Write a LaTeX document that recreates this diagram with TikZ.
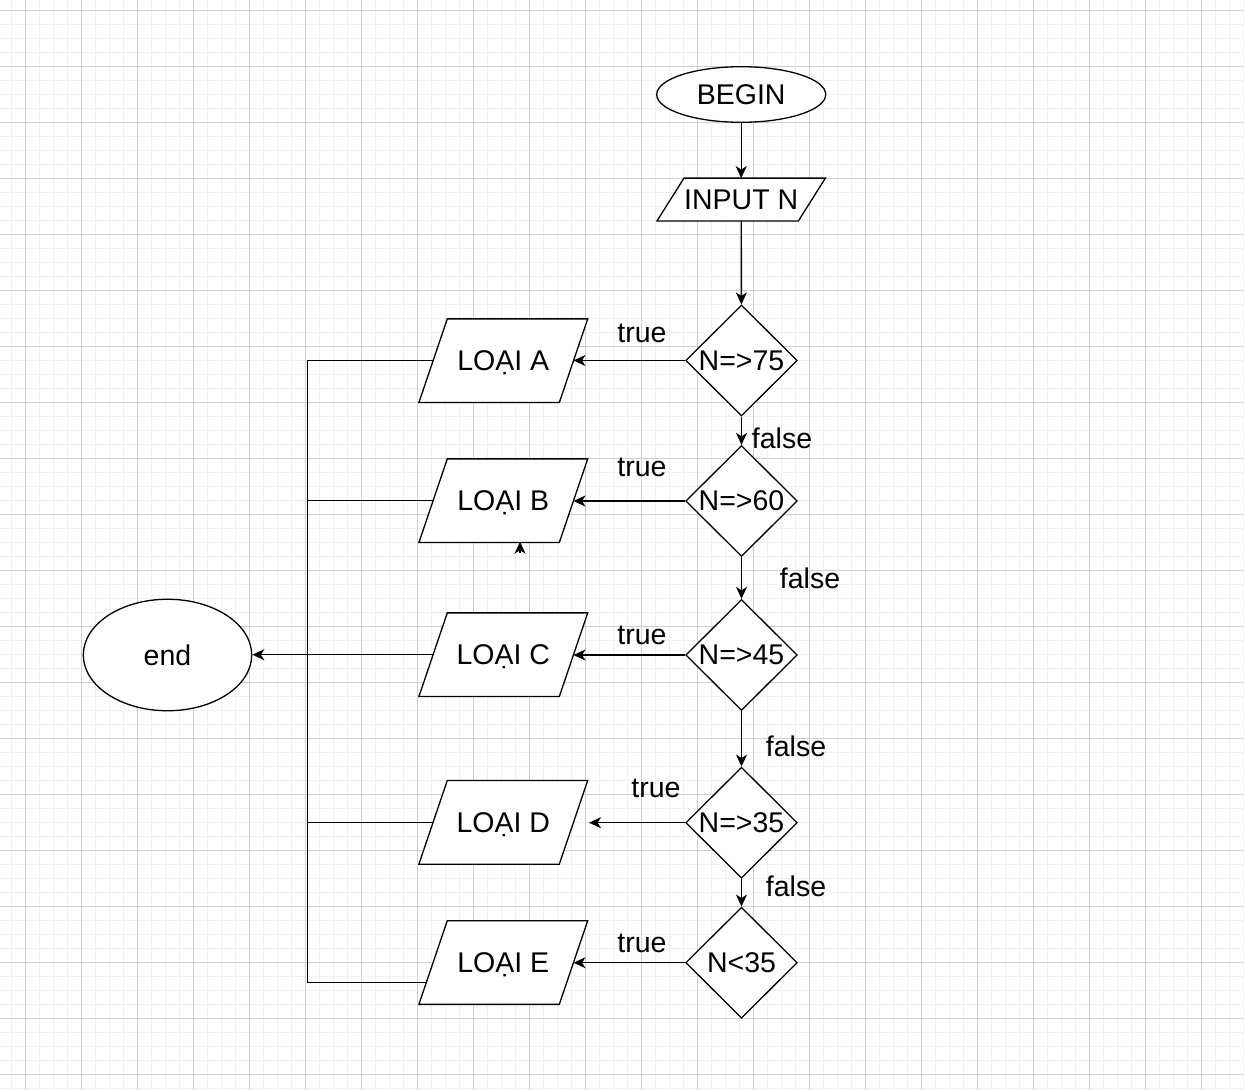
\documentclass[tikz,border=0pt]{standalone}
\usepackage{fontspec}
\setmainfont{Liberation Sans}
\usetikzlibrary{shapes.geometric,arrows.meta,calc}
\definecolor{gmaj}{RGB}{208,208,208}
\definecolor{gmin}{RGB}{241,241,241}
\pgfdeclarelayer{back}
\pgfsetlayers{back,main}
\begin{document}
\begin{tikzpicture}[x=1pt,y=-1pt,
  every node/.style={font=\fontsize{28.5}{34}\selectfont},
  conn/.style={line width=1.4pt, draw=black},
  arr/.style={conn, -{Stealth[length=12pt,width=11pt,inset=3.5pt]}},
  term/.style={ellipse, draw, line width=1.3pt, inner sep=0pt, fill=white},
  dec/.style={diamond, draw, line width=1.3pt, inner sep=0pt, minimum width=111.6pt, minimum height=111pt, fill=white},
  iobox/.style={rectangle, draw=none, inner sep=0pt, minimum width=140pt, minimum height=83.3pt, text depth=0pt},
  shp/.style={draw, line width=1.3pt, fill=white, line join=miter},
  lbl/.style={inner sep=0pt},
  minorline/.style={gmin, line width=1.6pt},
  majorline/.style={gmaj, line width=1pt}
]
\useasboundingbox (0,0) rectangle (1244,1090);
\begin{pgfonlayer}{back}
\fill[white] (0,0) rectangle (1244,1090);
\foreach \i in {0,...,88} \draw[minorline] ({11.3+14*\i},0) -- ({11.3+14*\i},1090);
\foreach \i in {0,...,77} \draw[minorline] (0,{10.3+14*\i}) -- (1244,{10.3+14*\i});
\foreach \i in {0,...,21} \draw[majorline] ({25.3+56*\i},0) -- ({25.3+56*\i},1090);
\foreach \i in {0,...,19} \draw[majorline] (0,{10.3+56*\i}) -- (1244,{10.3+56*\i});
\end{pgfonlayer}

% terminals
\node[term, minimum width=169pt, minimum height=55.6pt] (begin) at (741.2,94.5) {BEGIN};
\node[term, minimum width=168.4pt, minimum height=111.5pt] (endn) at (167.5,655) {end};

% input
\node[iobox, minimum width=141pt, minimum height=42.4pt] (inp) at (741.2,199.5) {INPUT N};

% decisions
\node[dec] (d1) at (741.5,360.5) {N=>75};
\node[dec] (d2) at (741.5,501) {N=>60};
\node[dec] (d3) at (741.5,655) {N=>45};
\node[dec] (d4) at (741.5,822.7) {N=>35};
\node[dec] (d5) at (741.5,962.7) {N<35};

% outputs
\node[iobox] (A) at (503.3,360.7) {LOẠI A};
\node[iobox] (B) at (503.3,500.7) {LOẠI B};
\node[iobox] (C) at (503.3,654.7) {LOẠI C};
\node[iobox] (D) at (503.3,822.3) {LOẠI D};
\node[iobox] (E) at (503.3,962.5) {LOẠI E};

\begin{pgfonlayer}{back}
\foreach \n/\s in {inp/13.5, A/14.2, B/14.2, C/14.2, D/14.2, E/14.2}
  \draw[shp] ([xshift=-\s pt]\n.south west) -- ([xshift=-\s pt]\n.south east)
    -- ([xshift=\s pt]\n.north east) -- ([xshift=\s pt]\n.north west) -- cycle;
\end{pgfonlayer}

% coordinates
\coordinate (j) at (307.3,655);
\coordinate (eL) at (426.6,982.3);
\coordinate (dEnd) at (589,822.7);
\coordinate (s1) at (520,553);
\coordinate (s2) at (520,541.7);

% main flow
\draw[arr] (begin) -- (inp);
\draw[arr] (inp) -- (d1);
\draw[arr] (d1) -- (d2);
\draw[arr] (d2) -- (d3);
\draw[arr] (d3) -- (d4);
\draw[arr] (d4) -- (d5);

% true branches
\draw[arr] (d1.west) -- (d1.west -| A.east);
\draw[arr] (d2.west) -- (d2.west -| B.east);
\draw[arr] (d3.west) -- (d3.west -| C.east);
\draw[arr] (d4.west) -- (dEnd);
\draw[arr] (d5.west) -- (d5.west -| E.east);

% to end
\draw[conn] (A.west) -| (j);
\draw[conn] (B.west) -| (j);
\draw[conn] (D.west) -| (j);
\draw[conn] (eL) -| (j);
\draw[arr] (C.west) -- (C.west -| endn.east);

% stray arrowhead
\draw[arr] (s1) -- (s2);

% labels
\node[lbl] (t1) at (642,333) {true};
\node[lbl] (t2) at (642,467) {true};
\node[lbl] (t3) at (642,635) {true};
\node[lbl] (t4) at (656,788) {true};
\node[lbl] (t5) at (642,943) {true};
\node[lbl] (f1) at (782,438) {false};
\node[lbl] (f2) at (810,578) {false};
\node[lbl] (f3) at (796,746) {false};
\node[lbl] (f4) at (796,886) {false};
\end{tikzpicture}
\end{document}
